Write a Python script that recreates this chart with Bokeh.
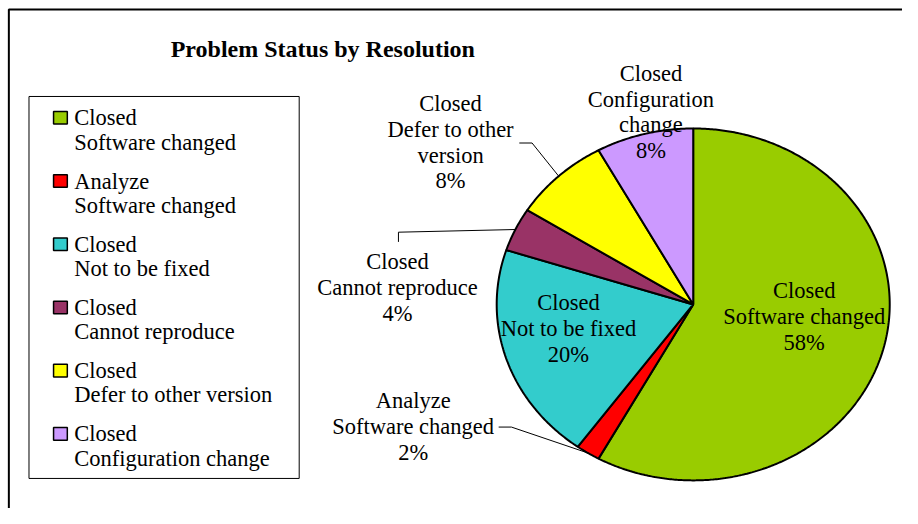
import numpy as np
from bokeh.plotting import figure
from bokeh.models import Range1d
from bokeh.embed import file_html
from bokeh.resources import INLINE
from bokeh.core.properties import value

# ---------------- data ----------------
chart_title = "Problem Status by Resolution"
status = ["Closed", "Analyze", "Closed", "Closed", "Closed", "Closed"]
resolution = ["Software changed", "Software changed", "Not to be fixed",
              "Cannot reproduce", "Defer to other version", "Configuration change"]
# how the resolution wraps in the slice labels
label_resolution = [["Software changed"], ["Software changed"], ["Not to be fixed"],
                    ["Cannot reproduce"], ["Defer to other", "version"],
                    ["Configuration", "change"]]
percent = [58, 2, 20, 4, 8, 8]
colors = ["#99CC00", "#FF0000", "#33CCCC", "#993366", "#FFFF00", "#CC99FF"]

# ---------------- layout (reference-image pixels) ----------------
FONT = "Liberation Serif"
W, H = 902, 508
REF_W, REF_H = 918, 524
CX, CY, RX, RY = 705.0, 313.5, 200.0, 181.5
label_pos = [(818, 299), (420, 413), (578, 312), (404, 269), (458, 106), (662, 75)]
LINE_STEP = 26.7
leader_start = {1: [(507, 440), (520, 440)], 3: [(405, 249), (405, 239)],
                4: [(528, 147), (541, 147)]}
LEG_X0, LEG_Y0, LEG_X1, LEG_Y1 = 29, 99, 304, 493
LEG_FIRST, LEG_STEP, LEG_LINE = 121, 65.2, 25

p = figure(width=W, height=H, output_backend="svg", toolbar_location=None,
           x_range=Range1d(0, REF_W), y_range=Range1d(REF_H, 0),
           x_axis_location=None, y_axis_location=None, min_border=0)
p.grid.visible = False
p.outline_line_color = None
p.background_fill_color = "white"
p.border_fill_color = "white"

# outer chart frame (cropped on right and bottom in the reference)
p.line([8.5, 8.5, REF_W], [REF_H, 9.3, 9.3], line_color="black", line_width=2)

# title
p.text(x=[328], y=[50], text=[chart_title], text_font=value(FONT),
       text_font_size="24px", text_font_style="bold", text_align="center",
       text_baseline="middle", text_color="black")

# ---------------- pie ----------------
total = float(sum(percent))
frac = np.array(percent) / total
ends = np.cumsum(frac)
starts = ends - frac
xs, ys, mids = [], [], []
for s, e in zip(starts, ends):
    n = max(3, int((e - s) * 720))
    t = np.linspace(s, e, n) * 2 * np.pi
    px = CX + RX * np.sin(t)
    py = CY - RY * np.cos(t)
    xs.append([CX] + list(px))
    ys.append([CY] + list(py))
    tm = (s + e) / 2 * 2 * np.pi
    mids.append((CX + RX * np.sin(tm), CY - RY * np.cos(tm)))

p.patches(xs, ys, fill_color=colors, line_color="black", line_width=2)

# leader lines
for i, pts in leader_start.items():
    lx = [q[0] for q in pts] + [mids[i][0]]
    ly = [q[1] for q in pts] + [mids[i][1]]
    p.line(lx, ly, line_color="black", line_width=1)

# slice labels
tx, ty, tt = [], [], []
for i in range(len(percent)):
    lines = [status[i]] + label_resolution[i] + [f"{percent[i]}%"]
    x0, y0 = label_pos[i]
    for k, ln in enumerate(lines):
        tx.append(x0)
        ty.append(y0 + k * LINE_STEP)
        tt.append(ln)
p.text(x=tx, y=ty, text=tt, text_font=value(FONT), text_font_size="22.5px",
       text_align="center", text_baseline="middle", text_color="black")

# ---------------- legend ----------------
p.quad(left=[LEG_X0], right=[LEG_X1], top=[LEG_Y0], bottom=[LEG_Y1],
       fill_color="white", line_color="black", line_width=1)
sw_y = [LEG_FIRST + LEG_STEP * i for i in range(len(percent))]
p.quad(left=[54] * len(sw_y), right=[68] * len(sw_y),
       top=[y - 6.5 for y in sw_y], bottom=[y + 6.5 for y in sw_y],
       fill_color=colors, line_color="black", line_width=1.5)
lx, ly, lt = [], [], []
for i in range(len(percent)):
    lx += [75, 75]
    ly += [sw_y[i], sw_y[i] + LEG_LINE]
    lt += [status[i], resolution[i]]
p.text(x=lx, y=ly, text=lt, text_font=value(FONT), text_font_size="22.5px",
       text_align="left", text_baseline="middle", text_color="black")

open("out.html", "w").write(file_html(p, INLINE))
